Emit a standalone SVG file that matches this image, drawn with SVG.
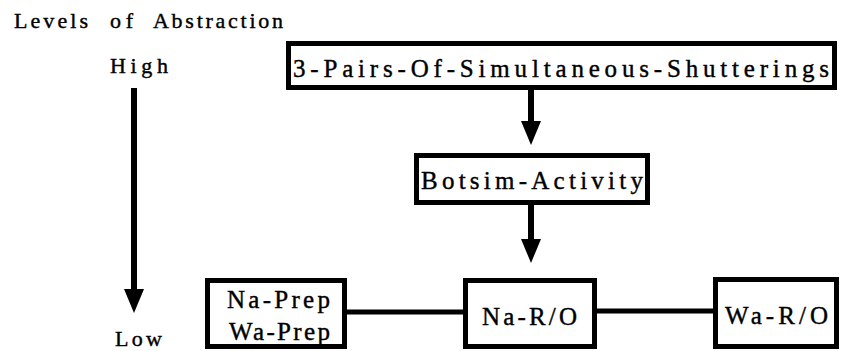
<svg xmlns="http://www.w3.org/2000/svg" width="843" height="351" viewBox="0 0 843 351">
  <style>
    .box { fill: #fff; stroke: #000; stroke-width: 5; }
    text { font-family: "Liberation Serif", "DejaVu Serif", "Times New Roman", serif; fill: #000; stroke: #000; stroke-width: 0.4; }
    .lbl { font-size: 25px; }
    .side { font-size: 22px; }
    .shaft { stroke: #000; stroke-width: 6; fill: none; }
    .link { stroke: #000; stroke-width: 5; fill: none; }
  </style>
  <defs>
    <marker id="head" markerUnits="userSpaceOnUse" markerWidth="24" markerHeight="20" viewBox="0 0 24 20" refX="10" refY="10" orient="auto">
      <path d="M0,0 L24,10 L0,20 z" fill="#000"/>
    </marker>
  </defs>

  <!-- scale of abstraction on the left -->
  <g id="scale">
    <text class="side" y="28"><tspan x="14" textLength="74" lengthAdjust="spacing">Levels</tspan><tspan x="110" textLength="23" lengthAdjust="spacing">of</tspan><tspan x="153" textLength="130" lengthAdjust="spacing">Abstraction</tspan></text>
    <text class="side" x="110" y="73" textLength="58" lengthAdjust="spacing">High</text>
    <text class="side" x="115" y="346" textLength="47" lengthAdjust="spacing">Low</text>
  </g>

  <!-- connectors -->
  <g id="connectors">
    <line class="shaft" x1="134" y1="88" x2="134" y2="299" marker-end="url(#head)"/>
    <line class="shaft" x1="531" y1="90" x2="531" y2="131" marker-end="url(#head)"/>
    <line class="shaft" x1="531" y1="205" x2="531" y2="249" marker-end="url(#head)"/>
    <line class="link" x1="346" y1="312" x2="464" y2="312"/>
    <line class="link" x1="596" y1="311" x2="714" y2="311"/>
  </g>

  <g id="shutterings">
    <rect class="box" x="288.5" y="43.5" width="546" height="44"/>
    <text class="lbl" x="293" y="77" textLength="536" lengthAdjust="spacing">3-Pairs-Of-Simultaneous-Shutterings</text>
  </g>

  <g id="botsim-activity">
    <rect class="box" x="416.5" y="155.5" width="231" height="47"/>
    <text class="lbl" x="421" y="189" textLength="222" lengthAdjust="spacing">Botsim-Activity</text>
  </g>

  <g id="prep">
    <rect class="box" x="207.5" y="280.5" width="137" height="66"/>
    <text class="lbl" x="227" y="308" textLength="103" lengthAdjust="spacing">Na-Prep</text>
    <text class="lbl" x="229" y="340" textLength="101" lengthAdjust="spacing">Wa-Prep</text>
  </g>

  <g id="na-ro">
    <rect class="box" x="465.5" y="280.5" width="129" height="66"/>
    <text class="lbl" x="482" y="325" textLength="95" lengthAdjust="spacing">Na-R/O</text>
  </g>

  <g id="wa-ro">
    <rect class="box" x="715.5" y="279.5" width="121" height="67"/>
    <text class="lbl" x="725" y="324" textLength="103" lengthAdjust="spacing">Wa-R/O</text>
  </g>
</svg>
